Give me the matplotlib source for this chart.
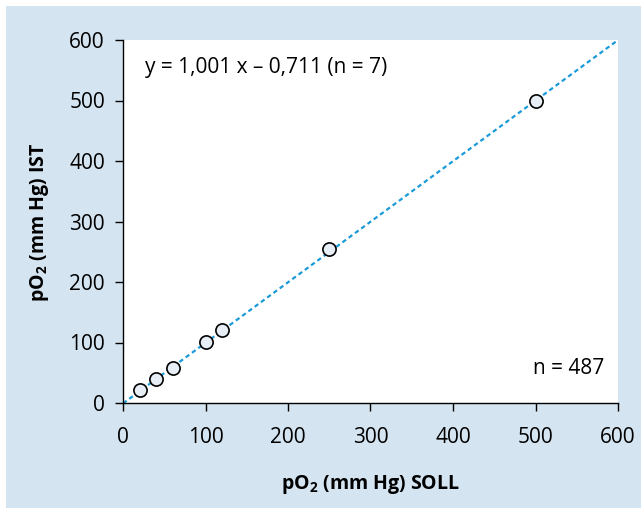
import matplotlib
matplotlib.use("Agg")
import matplotlib.pyplot as plt
from matplotlib.patches import Rectangle
import numpy as np

plt.rcParams['font.family'] = ['Open Sans', 'DejaVu Sans']
plt.rcParams['mathtext.fontset'] = 'custom'
plt.rcParams['mathtext.rm'] = 'Open Sans'
plt.rcParams['mathtext.bf'] = 'Open Sans:bold'

soll = [20, 40, 60, 100, 120, 250, 500]
ist = [21, 40, 58, 101, 121, 255, 499]
slope = 1.001
intercept = -0.711
ticks = [0, 100, 200, 300, 400, 500, 600]
equation = "y = 1,001 x \u2013 0,711 (n = 7)"
n_label = "n = 487"
xlabel = r"pO$_\mathbf{2}$ (mm Hg) SOLL"
ylabel = r"pO$_\mathbf{2}$ (mm Hg) IST"

W, H = 641, 508
fig = plt.figure(figsize=(W/100, H/100), dpi=100, facecolor='white')
fig.patches.append(Rectangle((6/W, 0), 1 - 6/W, 1 - 6/H, transform=fig.transFigure,
                             facecolor='#d4e4f0', edgecolor='none', zorder=-10))

ax = fig.add_axes([123/W, 1 - 403/H, (618-123)/W, (403-40)/H])
ax.set_facecolor('white')
ax.set_xlim(0, 600)
ax.set_ylim(0, 600)

xl = np.array([0, 600])
ax.plot(xl, slope*xl + intercept, color='#1a9ad8', lw=1.6, ls=(0, (2, 1.5)), zorder=2)
ax.plot(soll, ist, 'o', ms=9.5, mfc='#e8eef6', mec='black', mew=1.2, zorder=3, clip_on=False)

for s in ['top', 'right']:
    ax.spines[s].set_visible(False)
for s in ['left', 'bottom']:
    ax.spines[s].set_linewidth(1.0)

ax.set_xticks(ticks)
ax.set_yticks(ticks)
ax.tick_params(direction='out', length=6, width=1.0, labelsize=15, pad=7)
ax.tick_params(axis='x', pad=11)

ax.text(27, 555, equation, fontsize=15, va='center', ha='left')
ax.text(583, 57, n_label, fontsize=15, va='center', ha='right')

fig.text(370/W, 1 - 484/H, xlabel, fontsize=14, fontweight='bold', ha='center', va='center')
fig.text(40/W, 1 - 222/H, ylabel, fontsize=14, fontweight='bold', ha='center', va='center', rotation=90)

fig.savefig('out.png', dpi=100, facecolor='white')
